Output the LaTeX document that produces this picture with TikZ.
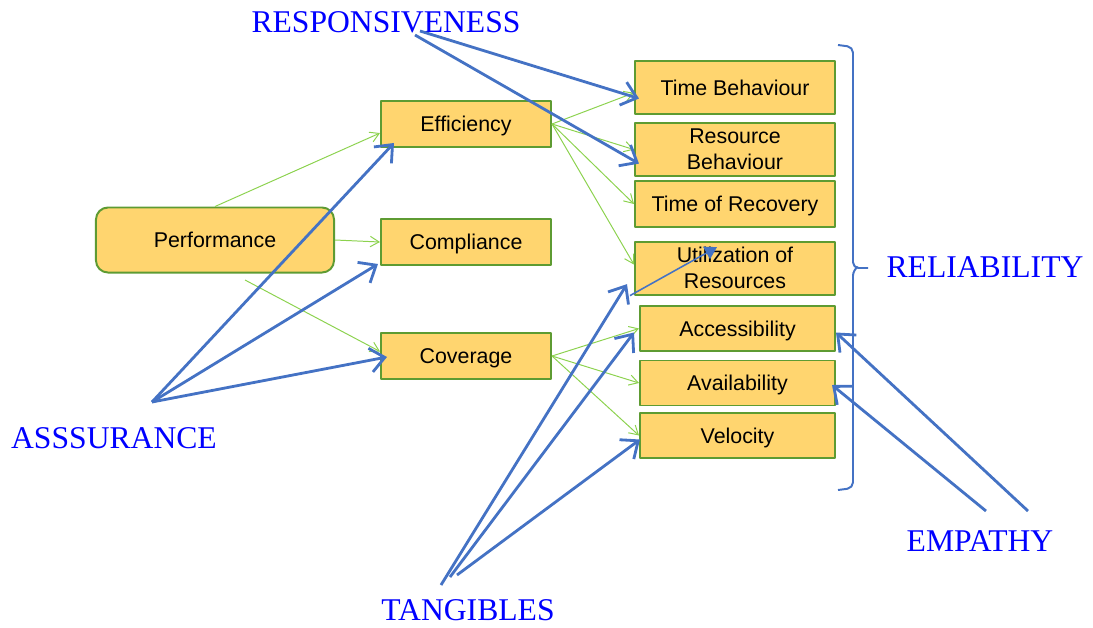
\documentclass[tikz,border=0pt]{standalone}
\usepackage{fontspec}
\setmainfont{Liberation Serif}
\newfontfamily\boxfont{Liberation Sans}
\usepackage{tikz}
\usetikzlibrary{arrows.meta, calc, positioning}
\definecolor{boxfill}{HTML}{FFD56F}
\definecolor{boxgreen}{HTML}{5E9B32}
\definecolor{linkgreen}{HTML}{8CD24E}
\definecolor{qblue}{HTML}{4472C4}
\definecolor{lblblue}{HTML}{0000FF}

\begin{document}
\begin{tikzpicture}[x=0.025cm, y=-0.025cm, line join=bevel,
        box/.style={draw=boxgreen, fill=boxfill, line width=1.4pt, inner sep=0pt, align=center,
                font=\boxfont\fontsize{15.2}{18.5}\selectfont},
        oneline/.style={text height=11pt, text depth=0pt},
        midbox/.style={box, oneline, minimum width=4.25cm, minimum height=1.15cm},
        qualbox/.style={box, minimum width=5cm, minimum height=1.325cm},
        subbox/.style={box, oneline, minimum width=4.875cm, minimum height=1.125cm},
        dimlabel/.style={text=lblblue, inner sep=0pt, font=\fontsize{22.5}{27}\selectfont},
        greenlink/.style={draw=linkgreen, line width=0.7pt, -{Straight Barb[length=2.2mm,width=2.6mm]}},
        bluelink/.style={draw=qblue, line width=2pt, -{Straight Barb[length=3.6mm,width=6mm]}}]
        \useasboundingbox (0,0) rectangle (1093,627);

        \node[box, oneline, rounded corners=0.3cm, minimum width=5.95cm, minimum height=1.625cm] (perf) at (215,240) {Performance};
        \node[midbox] (eff) at (466,124) {Efficiency};
        \node[midbox] (compl) at (466,242) {Compliance};
        \node[midbox] (cov) at (466,356) {Coverage};
        \node[qualbox, oneline] (timeb) at (735,87.5) {Time Behaviour};
        \node[qualbox, yshift=-1.5] (resb) at (735,147.5) {Resource\\Behaviour};
        \node[qualbox, oneline, minimum height=1.15cm] (timer) at (735,204) {Time of Recovery};
        \node[qualbox, yshift=-1.5] (util) at (735,266) {Utilization of\\Resources};
        \node[subbox] (access) at (737.5,328.5) {Accessibility};
        \node[subbox] (avail) at (737.5,383) {Availability};
        \node[subbox] (veloc) at (737.5,435.5) {Velocity};

        \node[dimlabel] (resp) at (386,22) {RESPONSIVENESS};
        \node[dimlabel] (assur) at (114,438) {ASSSURANCE};
        \node[dimlabel] (reliab) at (985,267) {RELIABILITY};
        \node[dimlabel] (empathy) at (980,541) {EMPATHY};
        \node[dimlabel] (tang) at (468,610) {TANGIBLES};

        \coordinate (perfS) at (245,280);
        \coordinate (respA) at (420,31);
        \coordinate (respB) at (415,35);
        \coordinate (assurA) at (152,402);
        \coordinate (tangA) at (441,585);
        \coordinate (tangB) at (450,577);
        \coordinate (tangC) at (457,575);
        \coordinate (empA) at (1028,511);
        \coordinate (empB) at (986,511);

        \draw[greenlink] (perf.north) -- (eff.186);
        \draw[greenlink] (perf.east) -- (compl.west);
        \draw[greenlink] (perfS) -- (cov.177);
        \draw[greenlink] (eff.east) -- (timeb.183);
        \draw[greenlink] (eff.east) -- (resb.west);
        \draw[greenlink] (eff.east) -- (timer.west);
        \draw[greenlink] (eff.east) -- (util.178);
        \draw[greenlink] (cov.east) -- (access.west);
        \draw[greenlink] (cov.east) -- (avail.west);
        \draw[greenlink] (cov.east) -- (veloc.west);

        \draw[bluelink] (respA) -- ($(timeb.west)+(5,11)$);
        \draw[bluelink] (respB) -- ($(resb.west)+(5,14)$);
        \draw[bluelink] (assurA) -- ($(eff.south west)+(14,-5)$);
        \draw[bluelink] (assurA) -- ($(compl.south west)+(-2,-2)$);
        \draw[bluelink] (assurA) -- ($(cov.west)+(7,1)$);
        \draw[bluelink] (tangA) -- ($(util.west)+(-7,16)$);
        \draw[bluelink] (tangB) -- ($(access.west)+(-5,4)$);
        \draw[bluelink] (tangC) -- ($(veloc.west)+(1,4)$);
        \draw[bluelink] (empA) -- ($(access.east)+(0,4)$);
        \draw[bluelink] (empB) -- ($(avail.east)+(-4,2)$);
        \draw[draw=qblue, line width=1.1pt, -{Triangle[length=3mm,width=3.5mm]}] ($(util.south west)+(-4,0)$) -- ($(util.center)+(-18,-21)$);

        \draw[qblue, line width=1.4pt, rounded corners=4pt] (838,45) -- (853,47) -- (853,268) -- (868,268);
        \draw[qblue, line width=1.4pt, rounded corners=4pt] (856,268) -- (853,270) -- (853,488) -- (838,490);
\end{tikzpicture}
\end{document}
